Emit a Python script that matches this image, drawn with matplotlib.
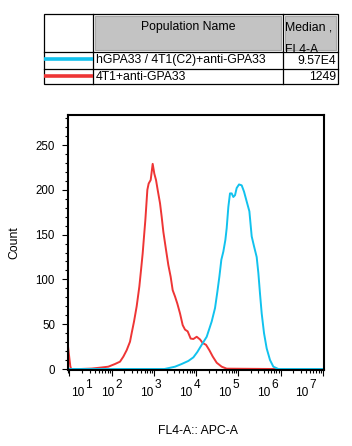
import numpy as np
import matplotlib
matplotlib.use("Agg")
import matplotlib.pyplot as plt
from matplotlib.patches import Rectangle
from matplotlib.transforms import offset_copy

plt.rcParams['font.family'] = ['Liberation Sans', 'DejaVu Sans']

# histogram traces: log10(FL4-A) and count
red_logx = [0.965, 0.99, 1.02, 1.04, 1.25, 1.525, 1.723, 1.92, 2.078, 2.197, 2.276,
            2.355, 2.434, 2.473, 2.529, 2.592, 2.655, 2.694, 2.734, 2.766, 2.797,
            2.845, 2.876, 2.924, 2.971, 3.01, 3.05, 3.089, 3.145, 3.184, 3.224,
            3.287, 3.342, 3.397, 3.445, 3.5, 3.555, 3.619, 3.682, 3.737, 3.8,
            3.871, 3.935, 4.014, 4.093, 4.156, 4.235, 4.314, 4.393, 4.488, 4.606,
            4.724, 5.89]
red_count = [25, 15, 3, 0, 0, 0.5, 1.5, 2.6, 5.6, 8.2, 13.8,
             21, 30.5, 40, 53, 70, 92, 110, 129, 148, 166,
             200, 207, 211, 229, 218, 211, 200, 185, 170, 153,
             133, 116, 103, 88, 81, 73, 62, 49, 44, 42,
             34, 33.5, 36, 33, 29, 27, 21, 14, 7, 2.6,
             0.4, 0]

blue_logx = [0.953, 3.25, 3.5, 3.658, 3.816, 3.935, 4.029, 4.132, 4.251, 4.369,
             4.448, 4.503, 4.551, 4.598, 4.645, 4.693, 4.724, 4.764, 4.803, 4.843,
             4.882, 4.922, 4.961, 5.017, 5.08, 5.135, 5.198, 5.262, 5.317, 5.372,
             5.435, 5.475, 5.514, 5.554, 5.609, 5.672, 5.751, 5.83, 5.949, 7.03]
blue_count = [0, 0, 2.6, 5.6, 9, 13, 19, 27, 36, 53,
              68, 86, 103, 122, 131, 144, 157, 181, 196, 196,
              192, 194, 202, 206, 205, 198, 187, 176, 148, 137,
              125, 107, 84, 62, 40, 23, 10, 2.6, 0, 0]

pop_names = ["hGPA33 / 4T1(C2)+anti-GPA33", "4T1+anti-GPA33"]
medians = ["9.57E4", "1249"]
colors = ["#11C2EE", "#EE3535"]

decades = [1, 2, 3, 4, 5, 6, 7]
label_pos = [1.202, 1.913, 2.837, 3.761, 4.685, 5.609, 6.51]
yticks = [0, 50, 100, 150, 200, 250]

fig = plt.figure(figsize=(3.52, 4.46), dpi=100)

# table drawn in pixel coordinates
tab = fig.add_axes([0, 0, 1, 1])
tab.set_xlim(0, 352)
tab.set_ylim(446, 0)
tab.axis('off')
tab.add_patch(Rectangle((95, 16), 186, 34, facecolor='#C3C3C3', edgecolor='#A8A8A8', lw=0.8))
med_cell = Rectangle((285, 16), 51, 34, facecolor='#C3C3C3', edgecolor='#A8A8A8', lw=0.8)
tab.add_patch(med_cell)
tab.add_patch(Rectangle((44, 14), 294, 70, facecolor='none', edgecolor='black', lw=0.9))
for xv in [93, 283]:
    tab.plot([xv, xv], [14, 84], color='black', lw=0.9)
for yv in [52, 69]:
    tab.plot([44, 338], [yv, yv], color='black', lw=0.9)
tab.text(188, 27, "Population Name", ha='center', va='center', fontsize=8.8)
tab.text(285, 27, "Median ,", ha='left', va='center', fontsize=8.8)
t = tab.text(285, 50, "FL4-A", ha='left', va='center', fontsize=8.8)
t.set_clip_path(med_cell)
for i, (name, med, c) in enumerate(zip(pop_names, medians, colors)):
    yc = 60.5 + i * 17
    tab.plot([44, 93], [yc - 1.5, yc - 1.5], color=c, lw=2.6, solid_capstyle='butt')
    tab.text(96, yc, name, ha='left', va='center', fontsize=8.8)
    tab.text(336, yc, med, ha='right', va='center', fontsize=8.8)

ax = fig.add_axes([67.5 / 352, 76 / 446, 256.5 / 352, 255 / 446])
ax.plot(10 ** np.array(red_logx), red_count, color=colors[1], lw=1.4)
ax.plot(10 ** np.array(blue_logx), blue_count, color=colors[0], lw=1.4)
ax.set_xscale('log')
ax.set_xlim(10 ** 0.953, 10 ** 7.03)
ax.set_ylim(-1.1, 283.5)

ax.set_xticks([10.0 ** d for d in decades])
ax.set_xticklabels([])
minors = [m * 10.0 ** d for d in range(0, 8) for m in range(2, 10)]
ax.set_xticks([v for v in minors if 10 ** 0.953 < v < 10 ** 7.03], minor=True)
ax.set_yticks(yticks)
ax.set_yticks(np.arange(0, 281, 10), minor=True)
ax.tick_params(axis='both', which='major', direction='out', length=4, width=0.8,
               labelsize=8.3, pad=5)
ax.tick_params(axis='both', which='minor', direction='out', length=2.2, width=0.8)
for s in ax.spines.values():
    s.set_linewidth(1.5)

xt = ax.get_xaxis_transform()
for d, p in zip(decades, label_pos):
    ax.text(10 ** p, -0.09, "10", transform=xt, ha='center', va='center', fontsize=8.6)
    ax.text(10 ** p, -0.059, str(d), transform=offset_copy(xt, fig=fig, x=7.5, units='dots'),
            ha='left', va='center', fontsize=8.6)

ax.set_ylabel("Count", fontsize=8.8)
ax.yaxis.set_label_coords(-0.184, 0.5)
fig.text(198 / 352, 12 / 446, "FL4-A:: APC-A", ha='center', va='baseline', fontsize=8.8)

fig.savefig("out.png", dpi=100)
